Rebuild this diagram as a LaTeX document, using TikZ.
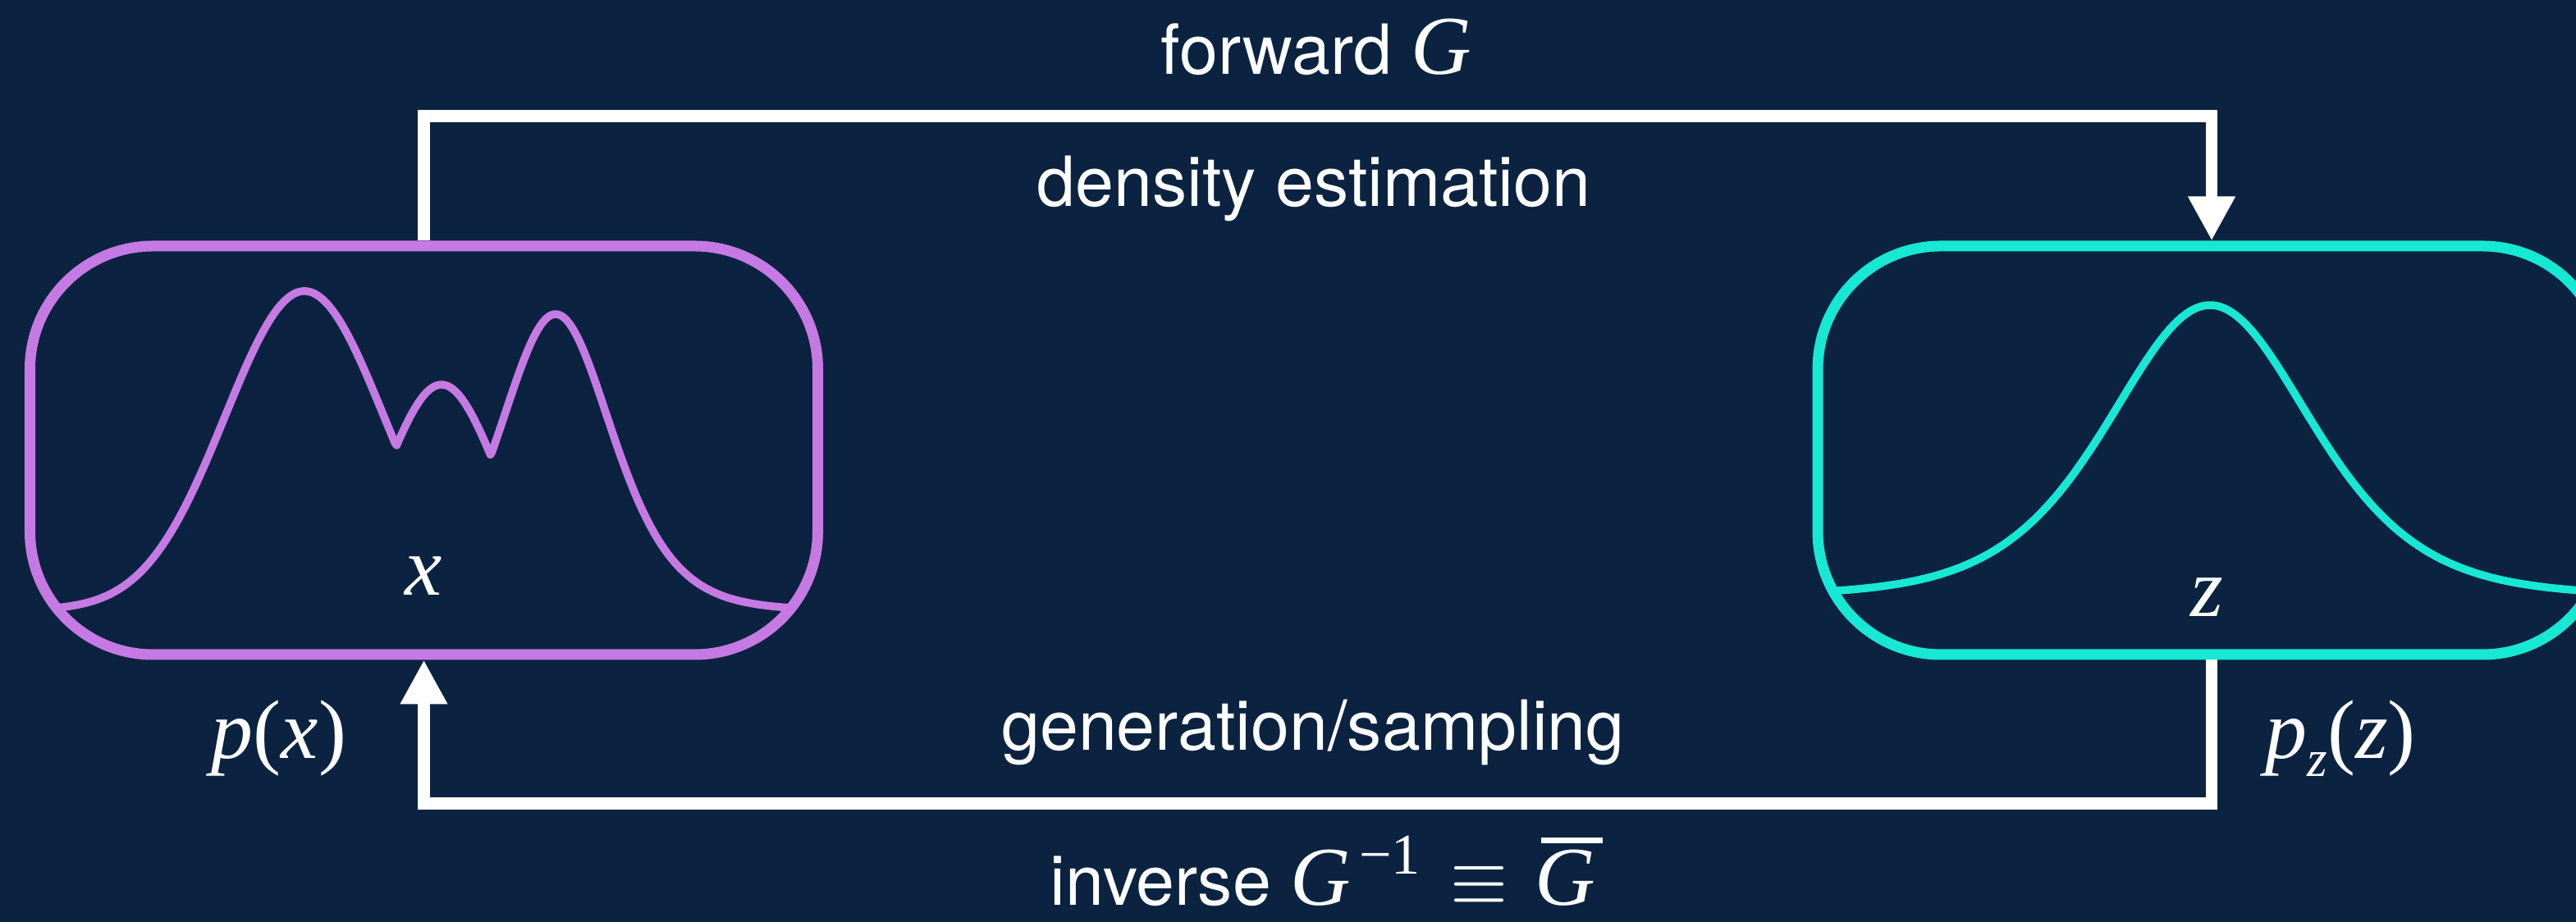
\documentclass[tikz,border=0pt]{standalone}
\usepackage{fontspec}
\usepackage{graphicx}
\setmainfont{TeX Gyre Heros}
\newfontfamily\tnr{Liberation Serif}
\newcommand{\mvar}[1]{{\tnr\itshape #1}}
\usetikzlibrary{arrows.meta}

\definecolor{bgnavy}{HTML}{0B2341}
\definecolor{xpurple}{HTML}{C57AE3}
\definecolor{zteal}{HTML}{17E8D3}

\begin{document}
\begin{tikzpicture}[
    spacebox/.style={line width=3.7pt, rounded corners=1.5cm, minimum width=9.6cm,
      minimum height=4.98cm, inner sep=0pt},
    density/.style={line width=2.7pt, line join=round},
    flow/.style={draw=white, line width=4pt, -{Triangle[width=0.54cm, length=0.54cm]}},
    caption/.style={text=white, anchor=base, inner sep=0pt, font=\fontsize{24}{28}\selectfont},
    varlabel/.style={text=white, anchor=base, inner sep=0pt, font=\fontsize{29}{34}\selectfont},
    declare function={
      gbump(\x,\c,\a,\s) = \a*exp(max(-9, -(\x-\c)*(\x-\c)/(2*\s*\s)));
      sbump(\x,\c,\a,\s) = 4*\a*exp(max(-9, -2*abs(\x-\c)/\s))
        /((1+exp(max(-9, -2*abs(\x-\c)/\s)))*(1+exp(max(-9, -2*abs(\x-\c)/\s))));
    },
  ]

  \useasboundingbox (0,0) rectangle (31.39,11.24);
  \fill[bgnavy] (0,0) rectangle (31.39,11.24);

  % data space and latent space
  \node[spacebox, draw=xpurple] (xbox) at (5.165,5.75) {};
  \node[spacebox, draw=zteal] (zbox) at (26.95,5.75) {};

  % p(x): upper envelope of three bumps
  \draw[xpurple, density] plot[domain=0.65:9.69, samples=500]
    (\x, {3.80 + max(gbump(\x,3.71,3.89,0.97), gbump(\x,5.38,2.75,0.69), sbump(\x,6.77,3.61,0.93))});

  % p_z(z): one bell
  \draw[zteal, density] plot[domain=22.38:31.6, samples=300]
    (\x, {3.98 + sbump(\x,26.93,3.54,1.66)});

  \node[varlabel] (xvar) at (5.16,3.98) {\mvar{x}};
  \node[varlabel] (zvar) at (26.89,3.72) {\mvar{z}};
  \node[varlabel] (pxlabel) at (3.40,1.99) {\mvar{p}{\tnr(}\mvar{x}{\tnr)}};
  \node[varlabel] (pzlabel) at (28.52,1.99)
    {\mvar{p}\raisebox{-0.22cm}{\fontsize{18}{18}\selectfont\mvar{z}}{\tnr(}\mvar{z}{\tnr)}};

  % forward and inverse maps
  \draw[flow] (xbox.north) -- ++(0,1.52) -| (zbox.north);
  \draw[flow] (zbox.south) -- ++(0,-1.75) -| (xbox.south);

  \node[caption] (fwdtop) at (16.04,10.33)
    {forward {\fontsize{29}{34}\selectfont\mvar{G}}};
  \node[caption] (fwdsub) at (16.01,8.72) {density estimation};
  \node[caption] (invsub) at (16.00,2.09) {generation/sampling};
  \node[caption] (invbot) at (16.12,0.2)
    {inverse {\fontsize{29}{34}\selectfont\mvar{G}}\kern0.1cm%
     \raisebox{0.38cm}{\fontsize{20}{20}\selectfont\tnr −1}\hspace{0.37cm}%
     \resizebox{0.70cm}{0.47cm}{$\equiv$}\hspace{0.33cm}%
     {\fontsize{29}{34}\selectfont\rlap{\hspace{0.07cm}\rule[0.76cm]{0.75cm}{0.065cm}}\mvar{G}}};
\end{tikzpicture}
\end{document}
